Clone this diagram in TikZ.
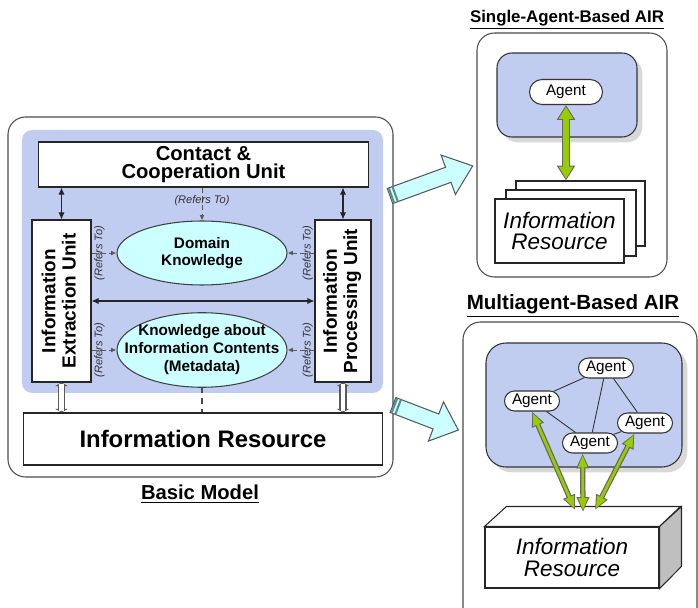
\documentclass[tikz,border=0pt]{standalone}
\usepackage{fontspec}
\setmainfont{Liberation Sans}
\usetikzlibrary{arrows.meta,positioning,shapes.geometric,shapes.misc,shadows,calc}
\definecolor{panelblue}{RGB}{192,204,240}
\definecolor{knowcyan}{RGB}{204,255,255}
\definecolor{linkgreen}{RGB}{153,204,0}
\definecolor{stripeteal}{RGB}{90,140,140}

\begin{document}
\begin{tikzpicture}[
  x=0.02cm, y=-0.02cm,
  font=\bfseries,
  frame/.style={draw=black!70, line width=0.6pt, rounded corners=0.35cm},
  panel/.style={fill=panelblue, rounded corners=0.2cm},
  shadowpanel/.style={draw=black!80, line width=0.6pt, fill=panelblue, rounded corners=0.3cm,
    drop shadow={shadow xshift=3pt, shadow yshift=-3pt, fill=black!30}},
  unitbox/.style={draw=black!85, line width=0.6pt, fill=white, align=center, inner sep=0pt},
  knowbox/.style={ellipse, draw=black!75, line width=0.6pt, fill=knowcyan, align=center,
    minimum width=3.4cm, minimum height=1.28cm, inner sep=0pt, font=\fontsize{8.7}{10}\selectfont\bfseries},
  refnote/.style={font=\fontsize{6.3}{7}\selectfont\mdseries\itshape, inner sep=0pt, text=black!80},
  agentbox/.style={rounded rectangle, draw=black!80, line width=0.6pt, fill=white,
    font=\fontsize{8.7}{9}\selectfont\mdseries, minimum width=1.1cm, minimum height=0.4cm, inner sep=0pt},
  doc/.style={draw=black!85, line width=0.6pt, fill=white},
  reslabel/.style={font=\fontsize{12.8}{12}\selectfont\mdseries\itshape, align=center},
  airtitle/.style={font=\fontsize{9.6}{10}\selectfont\bfseries},
  smallarrow/.style={draw=black!85, line width=0.6pt, {Latex[length=4pt,width=3.5pt]}-{Latex[length=4pt,width=3.5pt]}},
  refarrow/.style={draw=black!65, densely dashed, line width=0.5pt, -{Latex[length=3pt,width=2.6pt]}},
  hollowout/.style={draw=black!65, line width=4pt, {Triangle[length=2pt,width=7pt]}-{Triangle[length=2pt,width=7pt]}},
  hollowin/.style={draw=white, line width=2.4pt, shorten <=0.8pt, shorten >=0.8pt},
  glinkout/.style={draw=black!60, line width=4.8pt, {Triangle[length=8.5pt,width=10pt]}-{Triangle[length=8.5pt,width=10pt]}},
  glinkin/.style={draw=linkgreen, line width=3.2pt, shorten <=0.9pt, shorten >=0.9pt,
    {Triangle[length=7pt,width=7.8pt]}-{Triangle[length=7pt,width=7.8pt]}},
  mlinkout/.style={draw=black!60, line width=3pt, {Triangle[length=8.5pt,width=6.8pt]}-{Triangle[length=8.5pt,width=6.8pt]}},
  mlinkin/.style={draw=linkgreen, line width=1.6pt, shorten <=0.9pt, shorten >=0.9pt,
    {Triangle[length=7pt,width=5pt]}-{Triangle[length=7pt,width=5pt]}},
  blockarrow/.style={draw=black!65, line width=0.6pt, fill=knowcyan}
]
\useasboundingbox (0,0) rectangle (698,608);

% basic model
\draw[frame] (8,117) rectangle (393,477);
\fill[panel] (22,130) rectangle (383,393);

\node[unitbox, minimum width=6.62cm, minimum height=0.9cm, font=\fontsize{11.5}{10.5}\selectfont\bfseries]
  (contact) at (203.5,164.5) {Contact \&\\Cooperation Unit};
\node[unitbox, minimum width=1.18cm, minimum height=3.24cm] (ext) at (61.5,301)
  {\rotatebox{90}{\fontsize{10.8}{11.4}\selectfont\begin{tabular}{@{}c@{}}Information\\Extraction Unit\end{tabular}}};
\node[unitbox, minimum width=1.12cm, minimum height=3.24cm] (proc) at (343,301)
  {\rotatebox{90}{\fontsize{10.8}{11.4}\selectfont\begin{tabular}{@{}c@{}}Information\\Processing Unit\end{tabular}}};
\node[knowbox] (domain) at (202,253) {Domain\\Knowledge};
\node[knowbox] (meta) at (202,350)
  {\makebox[0pt]{\begin{tabular}{@{}c@{}}Knowledge about\\Information Contents\\(Metadata)\end{tabular}}};
\node[unitbox, minimum width=7.2cm, minimum height=1.04cm, font=\fontsize{13.6}{14}\selectfont\bfseries]
  (res) at (203,439) {Information Resource};
\node[font=\fontsize{11.5}{12}\selectfont\bfseries] (basic) at (200,494) {\underline{Basic Model}};

\draw[smallarrow] (contact.south -| ext.north) -- (ext.north);
\draw[smallarrow] (contact.south -| proc.north) -- (proc.north);
\draw[smallarrow] (ext.east) -- (proc.west);
\draw[refarrow] (domain.north |- contact.south) -- node[refnote, pos=0.4] {(Refers To)} (domain.north);
\draw[refarrow] (ext.east |- domain.west) -- node[refnote, rotate=90, pos=0.32] {(Refers To)} (domain.west);
\draw[refarrow] (proc.west |- domain.east) -- node[refnote, rotate=90, pos=0.25] {(Refers To)} (domain.east);
\draw[refarrow] (ext.east |- meta.west) -- node[refnote, rotate=90, pos=0.32] {(Refers To)} (meta.west);
\draw[refarrow] (proc.west |- meta.east) -- node[refnote, rotate=90, pos=0.25] {(Refers To)} (meta.east);
\draw[draw=black!70, dashed, line width=0.6pt] (meta.south) -- (meta.south |- res.north);
\draw[hollowout] (ext.south) -- (ext.south |- res.north);
\draw[hollowin] (ext.south) -- (ext.south |- res.north);
\draw[hollowout] (proc.south) -- (proc.south |- res.north);
\draw[hollowin] (proc.south) -- (proc.south |- res.north);

% block arrows to the two variants
\begin{scope}[shift={(390,196)}, rotate=20]
  \draw[blockarrow] (0,-8) -- (62,-8) -- (62,-21) -- (88,0) -- (62,21) -- (62,8) -- (0,8) -- cycle;
  \fill[stripeteal] (0.5,-8) rectangle (2.5,8);
  \fill[stripeteal] (4.5,-8) rectangle (6.5,8);
\end{scope}
\begin{scope}[shift={(393,405)}, rotate=-21]
  \draw[blockarrow] (0,-8) -- (46,-8) -- (46,-21) -- (70,0) -- (46,21) -- (46,8) -- (0,8) -- cycle;
  \fill[stripeteal] (0.5,-8) rectangle (2.5,8);
  \fill[stripeteal] (4.5,-8) rectangle (6.5,8);
\end{scope}

% single-agent-based AIR
\node[airtitle] (singletitle) at (567,20) {\underline{Single-Agent-Based AIR}};
\draw[frame] (477,33) rectangle (667,277);
\draw[shadowpanel] (497,53) rectangle (637,137);
\node[agentbox, minimum width=1.46cm, minimum height=0.5cm] (agent) at (566,92) {Agent};
\node[doc, minimum width=2.58cm, minimum height=1.3cm] (docback) at (580.5,213.5) {};
\node[doc, minimum width=2.6cm, minimum height=1.32cm] (docmid) at (571,223) {};
\node[doc, minimum width=2.58cm, minimum height=1.28cm, reslabel] (docfront) at (559.5,231) {Information\\Resource};
\draw[glinkout] (agent.south) -- (agent.south |- docback.north);
\draw[glinkin] (agent.south) -- (agent.south |- docback.north);

% multiagent-based AIR
\node[font=\fontsize{11.7}{12}\selectfont\bfseries] (multititle) at (573,306) {\underline{Multiagent-Based AIR}};
\draw[frame] (463,322) rectangle (697,640);
\draw[shadowpanel, rounded corners=0.4cm] (486,343) rectangle (682,467);
\node[agentbox] (ag1) at (606,368) {Agent};
\node[agentbox] (ag2) at (532,401) {Agent};
\node[agentbox] (ag3) at (645,423) {Agent};
\node[agentbox] (ag4) at (590,443) {Agent};
\draw[black!80, line width=0.5pt] (ag1) -- (ag2);
\draw[black!80, line width=0.5pt] (ag1) -- (ag4);
\draw[black!80, line width=0.5pt] (ag1) -- (ag3);
\draw[black!80, line width=0.5pt] (ag2) -- (ag4);
\draw[black!80, line width=0.5pt] (ag4) -- (ag3);

\node[doc, minimum width=3.48cm, minimum height=1.22cm, reslabel] (mres) at (572,557.5) {Information\\Resource};
\draw[doc] (mres.north west) -- ++(22,-20) -- ++(174,0) -- (mres.north east) -- cycle;
\draw[doc, fill=black!25] (mres.north east) -- ++(22,-20) -- ++(0,60) -- (mres.south east) -- cycle;
\coordinate (rin1) at (575,510);
\coordinate (rin2) at (583,512);
\coordinate (rin3) at (595,510);
\draw[mlinkout] (ag2.south) -- (rin1);
\draw[mlinkin] (ag2.south) -- (rin1);
\draw[mlinkout] (ag4.235) -- (rin2);
\draw[mlinkin] (ag4.235) -- (rin2);
\draw[mlinkout] (ag3.225) -- (rin3);
\draw[mlinkin] (ag3.225) -- (rin3);
\end{tikzpicture}
\end{document}
